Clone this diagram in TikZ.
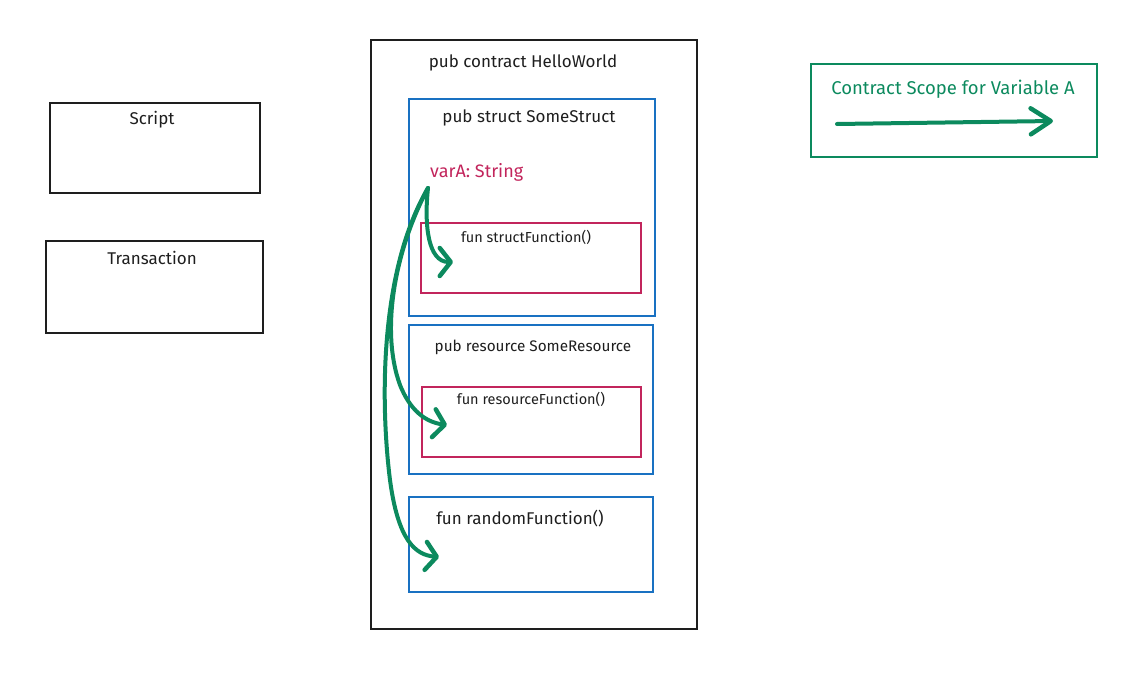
\documentclass[tikz,border=0pt]{standalone}
\usepackage{fontspec}
\setmainfont{Fira Sans}
\usetikzlibrary{arrows.meta}
\definecolor{sblue}{HTML}{1971C2}
\definecolor{sred}{HTML}{C2255C}
\definecolor{sgreen}{HTML}{0C8A5E}
\definecolor{sblack}{HTML}{1E1E1E}
\tikzset{
  box/.style={draw=sblack, line width=1.1pt},
  bluebox/.style={draw=sblue, line width=1.1pt},
  redbox/.style={draw=sred, line width=1.1pt},
  greenbox/.style={draw=sgreen, line width=1.3pt},
  lbl/.style={font=\fontsize{17}{19}\selectfont, text=sblack, inner sep=0pt},
  flbl/.style={font=\fontsize{14.5}{16}\selectfont, text=sblack, inner sep=0pt},
  garrow/.style={draw=sgreen, line width=4pt, line cap=round, line join=round,
    -{Straight Barb[length=11pt, width=28pt, line width=4.5pt, round]}},
  larrow/.style={draw=sgreen, line width=4pt, line cap=round, line join=round,
    -{Straight Barb[length=20pt, width=26pt, line width=4.5pt, round]}},
}
\begin{document}
\begin{tikzpicture}[x=1pt,y=-1pt]
\useasboundingbox (0,0) rectangle (1144,699);
% Script / Transaction
\draw[box] (50,103) rectangle (260,193);
\node[lbl] (script) at (152,120) {Script};
\draw[box] (46,241) rectangle (263,333);
\node[lbl] (tx) at (152,258) {Transaction};
% contract
\draw[box] (371,40) rectangle (697,629);
\node[lbl] (contract) at (523,63) {pub contract HelloWorld};
% struct
\draw[bluebox] (409,99) rectangle (655,316);
\node[lbl] (struct) at (529,118) {pub struct SomeStruct};
\node[lbl, text=sred, anchor=west, font=\fontsize{18}{20}\selectfont] (varA) at (430,172) {varA: String};
\coordinate (vs) at (428,188);
\draw[redbox] (421,223) rectangle (641,293);
\node[flbl] (sfun) at (526,237) {fun structFunction()};
\coordinate (e1) at (453,262);
% resource
\draw[bluebox] (409,325) rectangle (653,474);
\node[lbl, font=\fontsize{15.3}{17}\selectfont] (res) at (533,347) {pub resource SomeResource};
\draw[redbox] (422,387) rectangle (641,457);
\node[flbl] (rfun) at (531,399) {fun resourceFunction()};
\coordinate (e2) at (447,425);
% random
\draw[bluebox] (409,497) rectangle (653,592);
\node[lbl] (rand) at (520,519) {fun randomFunction()};
\coordinate (e3) at (439,557);
% arrows
\draw[garrow] (vs) .. controls (424,225) and (428,262) .. (e1);
\draw[garrow] (vs) .. controls (395,250) and (380,330) .. (400,385) .. controls (410,410) and (425,422) .. (e2);
\draw[garrow] (vs) .. controls (380,270) and (380,400) .. (390,480) .. controls (398,540) and (415,555) .. (e3);
% legend
\draw[greenbox] (811,64) rectangle (1097,157);
\node[lbl, text=sgreen, font=\fontsize{18.5}{20}\selectfont] (legend) at (953,89) {Contract Scope for Variable A};
\coordinate (l1) at (837,124);
\coordinate (l2) at (1053,121);
\draw[larrow] (l1) -- (l2);
\end{tikzpicture}
\end{document}
